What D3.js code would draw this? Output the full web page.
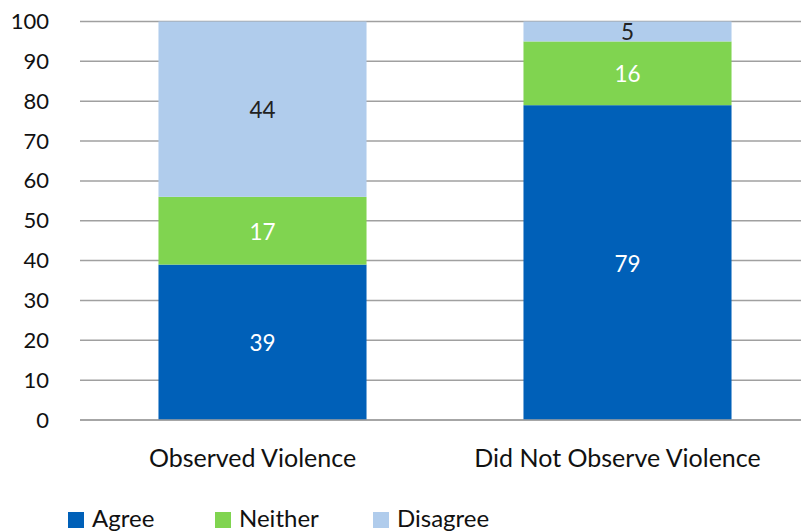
<!DOCTYPE html>
<html><head><meta charset="utf-8">
<script src="https://cdn.jsdelivr.net/npm/d3@7"></script>
<style>body{margin:0;background:#fff}svg{display:block}text{font-family:Lato,"Open Sans",sans-serif}</style>
</head><body><svg id="c" width="801" height="531"></svg>
<script>
const categories = ["Observed Violence", "Did Not Observe Violence"];
const seriesNames = ["Agree", "Neither", "Disagree"];
const agree = [39, 79];
const neither = [17, 16];
const disagree = [44, 5];
const yTicks = [0,10,20,30,40,50,60,70,80,90,100];
const colors = ["#0060B8", "#80D450", "#B0CCEC"];
const labelColors = ["#fff", "#fff", "#222"];

const svg = d3.select("#c");
const x = d3.scaleBand().domain(categories).range([80, 810]).paddingInner(0.43).paddingOuter(0.215);
const y = d3.scaleLinear().domain([0, 100]).range([420, 21.5]);

// gridlines
svg.append("g").selectAll("line").data(yTicks).join("line")
  .attr("x1", 80).attr("x2", 801)
  .attr("y1", d => y(d)).attr("y2", d => y(d))
  .attr("stroke", "#a0a0a0").attr("stroke-width", 1.5);

// y labels
const yAxis = svg.append("g").attr("transform", "translate(80,0)")
  .call(d3.axisLeft(y).tickValues(yTicks).tickSize(0).tickPadding(31));
yAxis.select(".domain").remove();
yAxis.selectAll("text").attr("font-size", 22).attr("fill", "#111").style("font-family", "Lato, sans-serif");

const rows = categories.map((c, i) => ({cat: c, Agree: agree[i], Neither: neither[i], Disagree: disagree[i]}));
const stacked = d3.stack().keys(seriesNames)(rows);

stacked.forEach((layer, li) => {
  const g = svg.append("g");
  g.selectAll("rect").data(layer).join("rect")
    .attr("x", d => x(d.data.cat)).attr("width", x.bandwidth())
    .attr("y", d => y(d[1])).attr("height", d => y(d[0]) - y(d[1]))
    .attr("fill", colors[li]);
  g.selectAll("text").data(layer).join("text")
    .attr("x", d => x(d.data.cat) + x.bandwidth()/2)
    .attr("y", d => (y(d[0]) + y(d[1]))/2)
    .attr("dy", "0.40em").attr("text-anchor", "middle")
    .attr("font-size", 22.5).attr("fill", labelColors[li])
    .text(d => d[1] - d[0]);
});

// baseline
svg.append("line").attr("x1", 80).attr("x2", 801).attr("y1", y(0)).attr("y2", y(0))
  .attr("stroke", "#a0a0a0").attr("stroke-width", 1.5);

// x labels
const xAxis = svg.append("g").attr("transform", `translate(0,${y(0)})`)
  .call(d3.axisBottom(x).tickSize(0).tickPadding(29));
xAxis.select(".domain").remove();
xAxis.selectAll("text").attr("font-size", 25).attr("dx", -10).attr("fill", "#111").style("font-family", "Lato, sans-serif");

// legend
const legendX = [68, 215, 373];
const lg = svg.append("g").selectAll("g").data(seriesNames).join("g")
  .attr("transform", (d, i) => `translate(${legendX[i]},512)`);
lg.append("rect").attr("width", 16).attr("height", 16).attr("fill", (d, i) => colors[i]);
lg.append("text").attr("x", 24).attr("y", 15).attr("font-size", 24).attr("fill", "#111").text(d => d);
</script></body></html>
